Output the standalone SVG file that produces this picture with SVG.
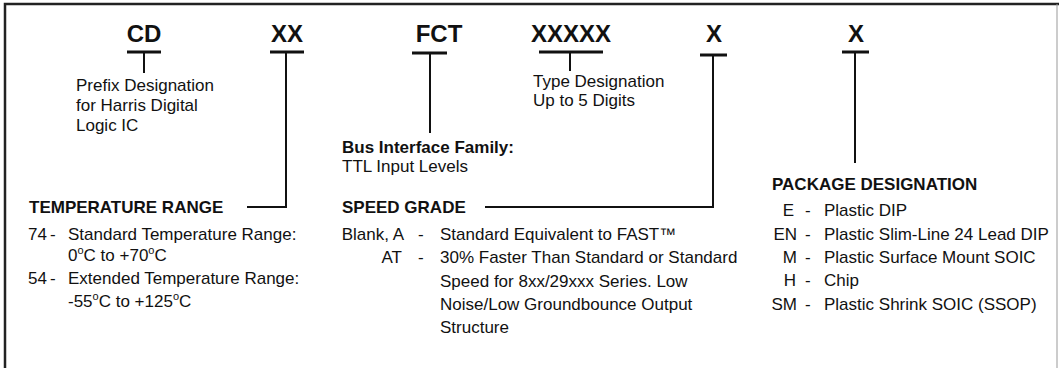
<svg xmlns="http://www.w3.org/2000/svg" width="1059" height="368" viewBox="0 0 1059 368">
<style>
text{font-family:"Liberation Sans",Arial,Helvetica,sans-serif;fill:#111}
.big{font-size:24px;font-weight:bold;text-anchor:middle}
.hd{font-size:17px;font-weight:bold}
.t{font-size:17px}
.e{text-anchor:end}
.sup{font-size:11px}
.bar{stroke:#111;stroke-width:3;fill:none}
.ln{stroke:#111;stroke-width:2;fill:none}
.frame{stroke:#222;stroke-width:2.5;fill:none}
</style>
<rect width="1059" height="368" fill="#fff"/>
<path class="frame" d="M5,368 V4 H1059"/>
<path d="M1057,4 V368" stroke="#999" stroke-width="1" fill="none"/>

<g id="connectors">
  <path class="bar" d="M127,52 H161"/>
  <path class="ln" d="M144,52 V73"/>
  <path class="bar" d="M270,52 H304"/>
  <path class="ln" d="M286,52 V207 H247"/>
  <path class="bar" d="M412,53 H447"/>
  <path class="ln" d="M430,53 V133"/>
  <path class="bar" d="M539,52 H603"/>
  <path class="ln" d="M570,52 V71"/>
  <path class="bar" d="M700,55 H727"/>
  <path class="ln" d="M713,55 V207 H485"/>
  <path class="bar" d="M842,52 H869"/>
  <path class="ln" d="M855,52 V163"/>
</g>

<g id="node-cd">
  <text class="big" x="144" y="42">CD</text>
  <text class="t" x="76" y="91">Prefix Designation</text>
  <text class="t" x="76" y="111">for Harris Digital</text>
  <text class="t" x="76" y="131">Logic IC</text>
</g>

<g id="node-xx">
  <text class="big" x="287" y="42">XX</text>
  <text class="hd" x="29" y="213">TEMPERATURE RANGE</text>
  <text class="t" x="28" y="240">74</text>
  <text class="t" x="50" y="240">-</text>
  <text class="t" x="68" y="240">Standard Temperature Range:</text>
  <text class="t" x="68" y="261">0<tspan class="sup" dy="-7">o</tspan><tspan dy="7">C to +70</tspan><tspan class="sup" dy="-7">o</tspan><tspan dy="7">C</tspan></text>
  <text class="t" x="28" y="284">54</text>
  <text class="t" x="50" y="284">-</text>
  <text class="t" x="68" y="284">Extended Temperature Range:</text>
  <text class="t" x="68" y="307">-55<tspan class="sup" dy="-7">o</tspan><tspan dy="7">C to +125</tspan><tspan class="sup" dy="-7">o</tspan><tspan dy="7">C</tspan></text>
</g>

<g id="node-fct">
  <text class="big" x="439" y="42">FCT</text>
  <text class="hd" x="342" y="153">Bus Interface Family:</text>
  <text class="t" x="342" y="172">TTL Input Levels</text>
</g>

<g id="node-xxxxx">
  <text class="big" x="571" y="42">XXXXX</text>
  <text class="t" x="533" y="87">Type Designation</text>
  <text class="t" x="533" y="106">Up to 5 Digits</text>
</g>

<g id="node-speed">
  <text class="big" x="714" y="42">X</text>
  <text class="hd" x="342" y="213">SPEED GRADE</text>
  <text class="t e" x="404" y="240">Blank, A</text>
  <text class="t" x="418" y="240">-</text>
  <text class="t" x="440" y="240">Standard Equivalent to FAST™</text>
  <text class="t e" x="402" y="263">AT</text>
  <text class="t" x="418" y="263">-</text>
  <text class="t" x="440" y="263">30% Faster Than Standard or Standard</text>
  <text class="t" x="440" y="287">Speed for 8xx/29xxx Series. Low</text>
  <text class="t" x="440" y="310">Noise/Low Groundbounce Output</text>
  <text class="t" x="440" y="333">Structure</text>
</g>

<g id="node-package">
  <text class="big" x="856" y="42">X</text>
  <text class="hd" x="772" y="190">PACKAGE DESIGNATION</text>
  <text class="t e" x="794" y="216">E</text>
  <text class="t" x="805" y="216">-</text>
  <text class="t" x="824" y="216">Plastic DIP</text>
  <text class="t e" x="797" y="240">EN</text>
  <text class="t" x="805" y="240">-</text>
  <text class="t" x="824" y="240">Plastic Slim-Line 24 Lead DIP</text>
  <text class="t e" x="797" y="263">M</text>
  <text class="t" x="805" y="263">-</text>
  <text class="t" x="824" y="263">Plastic Surface Mount SOIC</text>
  <text class="t e" x="796" y="286">H</text>
  <text class="t" x="805" y="286">-</text>
  <text class="t" x="824" y="286">Chip</text>
  <text class="t e" x="797" y="310">SM</text>
  <text class="t" x="805" y="310">-</text>
  <text class="t" x="824" y="310">Plastic Shrink SOIC (SSOP)</text>
</g>
</svg>
